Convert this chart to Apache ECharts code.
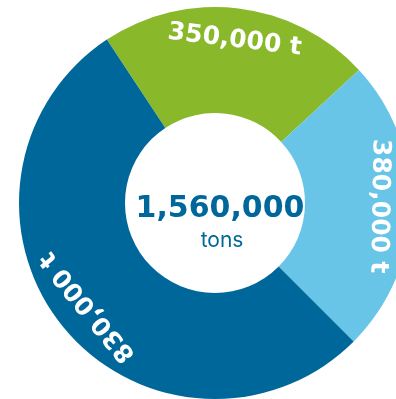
<!DOCTYPE html>
<html>
<head>
<meta charset="utf-8">
<script src="https://cdn.jsdelivr.net/npm/echarts@6/dist/echarts.min.js"></script>
<style>
    html, body { margin: 0; padding: 0; background: #fff; }
    #container { width: 396px; height: 399px; }
</style>
</head>
<body>
<div id="container"></div>
<script>
// 数据
var categories = ['350,000 t', '380,000 t', '830,000 t'];
var values = [350000, 380000, 830000];
var colors = ['#89b92a', '#69c5e7', '#00679a'];
var totalLabel = '1,560,000';
var unitLabel = 'tons';

var startAngle = 123.5;
var container = echarts.init(document.getElementById('container'));

// 每段中间角度 -> 标签旋转（字头朝外）
function getLabelRotate() {
    var total = 0;
    for (var i = 0; i < values.length; i++) total += values[i];
    var acc = 0, rotates = [];
    for (var i = 0; i < values.length; i++) {
        var mid = (acc + values[i] / 2) / total * 360 - (startAngle - 90);
        rotates.push(-mid);
        acc += values[i];
    }
    return rotates;
}

function getOption() {
    var rotates = getLabelRotate();
    var ringData = [], labelData = [];
    for (var i = 0; i < values.length; i++) {
        ringData.push({
            name: categories[i],
            value: values[i],
            itemStyle: { color: colors[i] }
        });
        labelData.push({
            name: categories[i],
            value: values[i],
            label: { rotate: rotates[i] }
        });
    }
    return {
        animation: false,
        series: [{
            type: 'pie',
            center: [215, 203],
            radius: [90, 196],
            startAngle: startAngle,
            clockwise: true,
            silent: true,
            label: { show: false },
            labelLine: { show: false },
            itemStyle: { borderWidth: 0 },
            data: ringData
        }, {
            type: 'pie',
            center: [215, 203],
            radius: [120, 202],
            startAngle: startAngle,
            clockwise: true,
            silent: true,
            itemStyle: { color: 'transparent', borderWidth: 0 },
            labelLine: { show: false },
            label: {
                show: true,
                position: 'inside',
                formatter: '{b}',
                color: '#ffffff',
                fontFamily: 'DejaVu Sans',
                fontWeight: 'bold',
                fontSize: 25
            },
            data: labelData
        }],
        graphic: [{
            type: 'text',
            style: {
                text: totalLabel,
                x: 220,
                y: 209,
                align: 'center',
                verticalAlign: 'middle',
                fill: '#00679a',
                font: 'bold 30px "DejaVu Sans"'
            }
        }, {
            type: 'text',
            style: {
                text: unitLabel,
                x: 222,
                y: 241,
                align: 'center',
                verticalAlign: 'middle',
                fill: '#00679a',
                font: '400 21px Inter'
            }
        }]
    };
}

container.setOption(getOption(), true);
</script>
</body>
</html>
